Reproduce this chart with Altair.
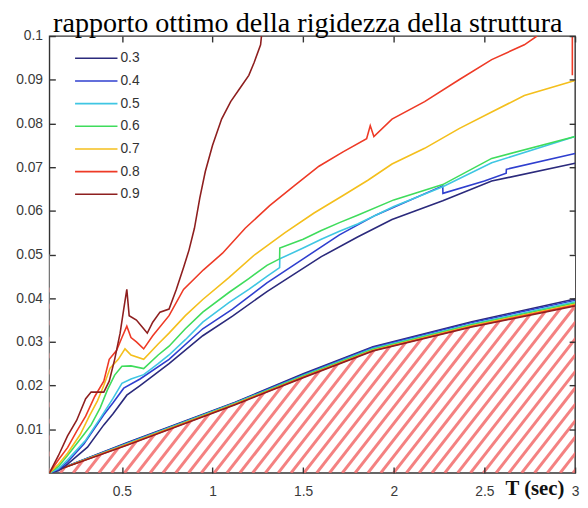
import altair as alt
import pandas as pd
import numpy as np

title_text = ["rapporto ottimo della rigidezza della struttura"]

ratios = ["0.3", "0.4", "0.5", "0.6", "0.7", "0.8", "0.9"]
colors = ["#2b2a7c", "#2f3fcf", "#3fc6e3", "#3fdc5c", "#f4bf1c", "#ee3a26", "#8e1f1f"]

# upper curves (stiffness ratio, staircase-like)
t_03 = [0.1, 0.15, 0.2, 0.31, 0.4, 0.45, 0.527, 0.6, 0.76, 0.946, 1.11, 1.3, 1.45, 1.6, 1.8, 1.99, 2.27, 2.54, 3.0]
v_03 = [0, 0.0005, 0.002, 0.0059, 0.011, 0.0135, 0.0178, 0.0200, 0.025, 0.0314, 0.0359, 0.0415, 0.0455, 0.0495, 0.054, 0.058, 0.0623, 0.0668, 0.0709]

t_04 = [0.1, 0.15, 0.2, 0.29, 0.4, 0.45, 0.51, 0.6, 0.76, 0.946, 1.11, 1.3, 1.5, 1.7, 1.9, 2.0, 2.27, 2.271, 2.5, 2.62, 2.621, 3.0]
v_04 = [0, 0.0008, 0.0025, 0.0066, 0.0133, 0.016, 0.0194, 0.0215, 0.026, 0.033, 0.0375, 0.0435, 0.049, 0.0545, 0.059, 0.0608, 0.0657, 0.064, 0.0668, 0.0686, 0.0695, 0.0731]

t_05 = [0.1, 0.15, 0.2, 0.3, 0.38, 0.45, 0.5, 0.55, 0.62, 0.7, 0.76, 0.85, 0.946, 1.09, 1.2, 1.3, 1.37, 1.371, 1.5, 1.6, 1.7, 1.8, 2.0, 2.27, 2.54, 3.0]
v_05 = [0, 0.001, 0.003, 0.0075, 0.0125, 0.017, 0.0205, 0.0215, 0.0225, 0.025, 0.027, 0.0305, 0.0345, 0.039, 0.042, 0.045, 0.047, 0.049, 0.0515, 0.0535, 0.0553, 0.057, 0.061, 0.0655, 0.071, 0.077]

t_06 = [0.1, 0.15, 0.2, 0.29, 0.33, 0.38, 0.42, 0.46, 0.5, 0.55, 0.62, 0.7, 0.76, 0.85, 0.946, 1.09, 1.2, 1.3, 1.37, 1.371, 1.5, 1.6, 1.7, 1.8, 2.0, 2.27, 2.54, 3.0]
v_06 = [0, 0.0015, 0.004, 0.0088, 0.011, 0.0149, 0.019, 0.0224, 0.0244, 0.0245, 0.0239, 0.027, 0.029, 0.033, 0.0368, 0.0413, 0.0445, 0.0475, 0.049, 0.0515, 0.0535, 0.0555, 0.0573, 0.059, 0.0625, 0.066, 0.072, 0.077]

t_07 = [0.1, 0.15, 0.2, 0.27, 0.32, 0.365, 0.4, 0.435, 0.48, 0.517, 0.55, 0.62, 0.7, 0.76, 0.85, 0.946, 1.09, 1.234, 1.4, 1.56, 1.72, 1.857, 1.99, 2.17, 2.36, 2.54, 2.72, 3.0]
v_07 = [0, 0.002, 0.0045, 0.0088, 0.013, 0.0165, 0.020, 0.024, 0.026, 0.0284, 0.027, 0.026, 0.0295, 0.032, 0.036, 0.0397, 0.0447, 0.050, 0.055, 0.0595, 0.0635, 0.067, 0.0707, 0.0743, 0.0788, 0.0826, 0.0864, 0.0898]

t_08 = [0.1, 0.15, 0.2, 0.25, 0.3, 0.35, 0.4, 0.43, 0.47, 0.5, 0.527, 0.55, 0.58, 0.62, 0.67, 0.76, 0.84, 0.95, 1.055, 1.18, 1.315, 1.45, 1.587, 1.72, 1.85, 1.87, 1.89, 1.99, 2.17, 2.36, 2.54, 2.72, 2.79]
v_08 = [0, 0.003, 0.0058, 0.0095, 0.013, 0.0175, 0.021, 0.026, 0.028, 0.031, 0.0336, 0.031, 0.030, 0.0284, 0.0314, 0.036, 0.042, 0.0465, 0.0503, 0.056, 0.0612, 0.0657, 0.0702, 0.0735, 0.0765, 0.0795, 0.077, 0.081, 0.085, 0.090, 0.0946, 0.098, 0.1]
# the 0.8 curve re-enters at the right edge
t_08_tail = [2.985, 2.985]
v_08_tail = [0.1, 0.091]

t_09 = [0.1, 0.15, 0.2, 0.25, 0.3, 0.33, 0.4, 0.43, 0.46, 0.49, 0.51, 0.527, 0.54, 0.58, 0.62, 0.64, 0.67, 0.71, 0.76, 0.8, 0.84, 0.87, 0.9, 0.93, 0.96, 1.0, 1.05, 1.1, 1.15, 1.2, 1.23, 1.265, 1.27]
v_09 = [0, 0.004, 0.0085, 0.012, 0.017, 0.0185, 0.0185, 0.021, 0.026, 0.032, 0.0375, 0.042, 0.036, 0.035, 0.033, 0.032, 0.0345, 0.0368, 0.0375, 0.042, 0.047, 0.051, 0.056, 0.063, 0.069, 0.075, 0.081, 0.085, 0.088, 0.091, 0.094, 0.098, 0.1]

# lower curves (minimum ratio), nearly coincident
t_low = [0.1, 0.527, 1.125, 1.5, 1.885, 2.43, 3.0]
low_03 = [0, 0.0069, 0.0162, 0.0227, 0.0289, 0.0346, 0.0398]
low_04 = [0, 0.0068, 0.0161, 0.0225, 0.0287, 0.0344, 0.0395]
low_05 = [0, 0.0067, 0.0160, 0.0223, 0.0285, 0.0341, 0.0392]
low_06 = [0, 0.0066, 0.0159, 0.0222, 0.0283, 0.0339, 0.0389]
low_07 = [0, 0.0065, 0.0158, 0.0220, 0.0281, 0.0337, 0.0386]
low_08 = [0, 0.0064, 0.0157, 0.0219, 0.0280, 0.0335, 0.0384]
low_09 = [0, 0.0063, 0.0156, 0.0218, 0.0279, 0.0334, 0.0382]

x_ticks = [0.5, 1, 1.5, 2, 2.5, 3]
y_ticks = [0.01, 0.02, 0.03, 0.04, 0.05, 0.06, 0.07, 0.08, 0.09, 0.1]

upper = [(t_03, v_03), (t_04, v_04), (t_05, v_05), (t_06, v_06), (t_07, v_07), (t_08, v_08), (t_09, v_09)]
lower = [low_03, low_04, low_05, low_06, low_07, low_08, low_09]

rows = []
for r, (ts, vs) in zip(ratios, upper):
    for i, (t, v) in enumerate(zip(ts, vs)):
        rows.append({"T": t, "v": v, "ratio": r, "seg": r + "a", "o": i})
for i, (t, v) in enumerate(zip(t_08_tail, v_08_tail)):
    rows.append({"T": t, "v": v, "ratio": "0.8", "seg": "0.8b", "o": i})
up_df = pd.DataFrame(rows)

rows = []
for r, vs in zip(ratios, lower):
    for i, (t, v) in enumerate(zip(t_low, vs)):
        rows.append({"T": t, "v": v, "ratio": r, "o": i})
low_df = pd.DataFrame(rows)

mask_df = pd.DataFrame({"T": t_low, "v": low_09, "top": [0.05] * len(t_low)})

# hatch pattern of the infeasible region
hatch_t0 = np.round(np.arange(-0.9, 3.0, 0.0707), 4)
hatch_df = pd.DataFrame({"t0": hatch_t0, "t1": hatch_t0 + 0.847, "y0": 0.0, "y1": 0.045})

xs = alt.Scale(domain=[0.1, 3], nice=False, zero=False)
ys = alt.Scale(domain=[0, 0.1], nice=False, zero=False)
cs = alt.Scale(domain=ratios, range=colors)

tk = dict(tickColor="#333", tickSize=6, tickWidth=1.4, offset=-6, domain=False,
          grid=False, minExtent=0, zindex=2)
lab = dict(labelFont="Liberation Sans", labelFontSize=14, labelColor="#3a3a3a", **tk)

x_bottom = alt.Axis(orient="bottom", values=x_ticks, format="~g", labelPadding=12,
                    labelFlush=False, labelOverlap=False,
                    title="T (sec)", titleFont="Liberation Serif", titleFontSize=21,
                    titleFontWeight="bold", titleColor="#111", titleX=462, titleY=28,
                    titleAlign="left", titleBaseline="alphabetic", **lab)
y_left = alt.Axis(orient="left", values=y_ticks, format="~g", labelPadding=7,
                  labelFlush=False, labelOverlap=False, title=None, **lab)
x_top = alt.Axis(orient="top", values=x_ticks, labels=False, title=None, maxExtent=0, **tk)
y_right = alt.Axis(orient="right", values=y_ticks, labels=False, title=None, maxExtent=0, **tk)

hatch = alt.Chart(hatch_df).mark_rule(color="#f26b6b", strokeWidth=3, opacity=0.85, clip=True).encode(
    x=alt.X("t0:Q", scale=xs, axis=x_bottom),
    x2="t1:Q",
    y=alt.Y("y0:Q", scale=ys, axis=y_left),
    y2="y1:Q",
)

mask = alt.Chart(mask_df).mark_area(color="white", clip=True).encode(
    x=alt.X("T:Q", scale=xs, axis=None),
    y=alt.Y("v:Q", scale=ys, axis=None),
    y2="top:Q",
)

low_lines = alt.Chart(low_df).mark_line(strokeWidth=1.5, clip=True).encode(
    x=alt.X("T:Q", scale=xs, axis=x_top),
    y=alt.Y("v:Q", scale=ys, axis=y_right),
    color=alt.Color("ratio:N", scale=cs, legend=None),
    order="o:Q",
)

up_lines = alt.Chart(up_df).mark_line(strokeWidth=1.6, clip=True).encode(
    x=alt.X("T:Q", scale=xs, axis=None),
    y=alt.Y("v:Q", scale=ys, axis=None),
    color=alt.Color("ratio:N", scale=cs, legend=alt.Legend(
        orient="none", legendX=25, legendY=11, title=None, symbolType="stroke",
        symbolSize=1849, symbolStrokeWidth=1.6, labelFont="Liberation Sans",
        labelFontSize=14, labelColor="#333", clipHeight=23, rowPadding=0,
        labelOffset=2, padding=0)),
    detail="seg:N",
    order="o:Q",
)

title = alt.Chart(pd.DataFrame({"title": title_text})).mark_text(
    font="Liberation Serif", fontSize=28.5, color="#000", align="center",
    baseline="alphabetic"
).encode(text="title:N", x=alt.value(262), y=alt.value(-4))

chart = alt.layer(hatch, mask, low_lines, up_lines, title).resolve_axis(
    x="independent", y="independent"
).resolve_scale(color="independent").properties(
    width=533, height=443,
    autosize=alt.AutoSizeParams(type="none"),
    padding={"left": 42, "top": 25, "right": 5, "bottom": 24},
    background="white",
).configure_view(stroke="#333", strokeWidth=1.4)

chart.save("out.html", embed_options={"renderer": "svg", "actions": False})
